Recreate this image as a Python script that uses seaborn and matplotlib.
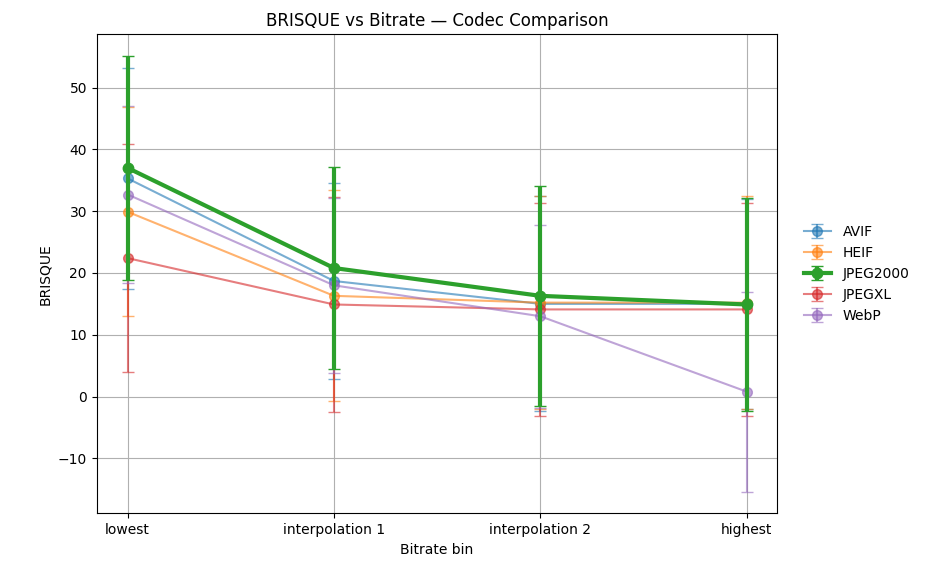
import matplotlib
matplotlib.use("Agg")
import matplotlib.pyplot as plt
import seaborn as sns
import numpy as np

bins = ["lowest", "interpolation 1", "interpolation 2", "highest"]
codecs = ["AVIF", "HEIF", "JPEG2000", "JPEGXL", "WebP"]

avif_mean = [35.3, 18.7, 15.0, 15.0]
avif_sd = [17.9, 15.9, 17.4, 17.0]
heif_mean = [29.9, 16.3, 15.2, 15.2]
heif_sd = [16.9, 17.1, 17.2, 17.2]
jpeg2000_mean = [37.0, 20.8, 16.3, 14.9]
jpeg2000_sd = [18.1, 16.3, 17.8, 17.2]
jpegxl_mean = [22.4, 14.9, 14.1, 14.1]
jpegxl_sd = [18.4, 17.4, 17.2, 17.2]
webp_mean = [32.7, 18.0, 13.0, 0.8]
webp_sd = [14.4, 14.2, 14.8, 16.2]

means = [avif_mean, heif_mean, jpeg2000_mean, jpegxl_mean, webp_mean]
sds = [avif_sd, heif_sd, jpeg2000_sd, jpegxl_sd, webp_sd]

palette = sns.color_palette("tab10", len(codecs))

fig = plt.figure(figsize=(9.3, 5.63), dpi=100)
ax = fig.add_axes([0.104, 0.088, 0.732, 0.851])

x = np.arange(len(bins))
for name, m, s, c in zip(codecs, means, sds, palette):
    highlight = name == "JPEG2000"
    ax.errorbar(
        x, m, yerr=s,
        label=name, color=c, marker="o",
        linewidth=3 if highlight else 1.5,
        markersize=7.5 if highlight else 7,
        capsize=4,
        alpha=1.0 if highlight else 0.6,
        zorder=3 if highlight else 2,
    )

ax.set_xticks(x)
ax.set_xticklabels(bins)
ax.set_xlabel("Bitrate bin")
ax.set_ylabel("BRISQUE")
ax.set_title("BRISQUE vs Bitrate \u2014 Codec Comparison")
ax.grid(True)
ax.legend(loc="center left", bbox_to_anchor=(1.02, 0.5), frameon=False)

fig.savefig("out.png", dpi=100)
